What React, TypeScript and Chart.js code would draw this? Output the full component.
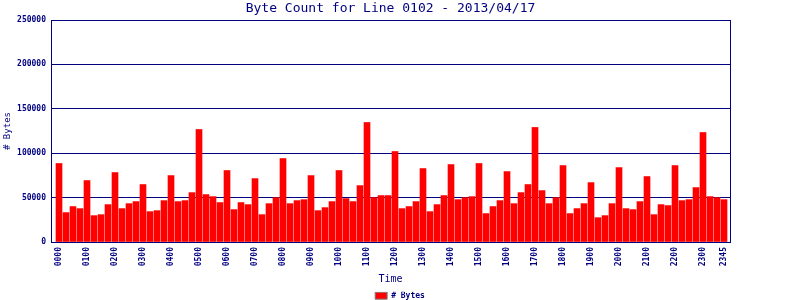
import React, { useEffect, useRef } from "react";
import { Chart, registerables } from "chart.js";

Chart.register(...registerables);

const timeLabels: string[] = [
  "0000", "0015", "0030", "0045", "0100", "0115", "0130", "0145",
  "0200", "0215", "0230", "0245", "0300", "0315", "0330", "0345",
  "0400", "0415", "0430", "0445", "0500", "0515", "0530", "0545",
  "0600", "0615", "0630", "0645", "0700", "0715", "0730", "0745",
  "0800", "0815", "0830", "0845", "0900", "0915", "0930", "0945",
  "1000", "1015", "1030", "1045", "1100", "1115", "1130", "1145",
  "1200", "1215", "1230", "1245", "1300", "1315", "1330", "1345",
  "1400", "1415", "1430", "1445", "1500", "1515", "1530", "1545",
  "1600", "1615", "1630", "1645", "1700", "1715", "1730", "1745",
  "1800", "1815", "1830", "1845", "1900", "1915", "1930", "1945",
  "2000", "2015", "2030", "2045", "2100", "2115", "2130", "2145",
  "2200", "2215", "2230", "2245", "2300", "2315", "2330", "2345",
];

const byteCounts: number[] = [
  88400, 33100, 39900, 37600, 69200, 29700, 30800, 42100,
  78200, 37600, 43200, 45500, 64700, 34200, 35300, 46600,
  74800, 45500, 46600, 55600, 126700, 53400, 51100, 44400,
  80500, 36500, 44400, 42100, 71400, 30800, 43200, 50000,
  94000, 43200, 46600, 47700, 74800, 35300, 38700, 45500,
  80500, 48900, 45500, 63500, 134600, 50000, 52300, 52300,
  101900, 37600, 39900, 45500, 82700, 34200, 42100, 52300,
  87200, 47700, 50000, 51100, 88400, 32000, 39900, 46600,
  79300, 43200, 55600, 64700, 129000, 57900, 43200, 50000,
  86100, 32000, 37600, 43200, 66900, 27400, 29700, 43200,
  83800, 37600, 36500, 45500, 73700, 30800, 42100, 41000,
  86100, 46600, 47700, 61300, 123300, 51100, 50000, 47700,
];

const shownTimeTicks: string[] = [
  "0000", "0100", "0200", "0300", "0400", "0500", "0600", "0700",
  "0800", "0900", "1000", "1100", "1200", "1300", "1400", "1500",
  "1600", "1700", "1800", "1900", "2000", "2100", "2200", "2300", "2345",
];

const yTicks: number[] = [0, 50000, 100000, 150000, 200000, 250000];

const NAVY = "#000080";
const MONO = "'DejaVu Sans Mono', 'Liberation Mono', monospace";

export default function App() {
  const ref = useRef<HTMLCanvasElement | null>(null);

  useEffect(() => {
    document.body.style.margin = "0";
    const canvas = ref.current;
    if (!canvas) return;
    const chart = new Chart(canvas, {
      type: "bar",
      data: {
        datasets: [
          {
            label: "# Bytes",
            data: byteCounts.map((v, i) => ({ x: i, y: v })),
            backgroundColor: "#ff0000",
            borderWidth: 0,
            barThickness: 6,
            yAxisID: "y",
          },
        ],
      },
      options: {
        responsive: false,
        animation: false,
        devicePixelRatio: 1,
        layout: { padding: { top: 0, left: 0, right: 0, bottom: -9.7 } },
        plugins: {
          tooltip: { enabled: false },
          title: {
            display: true,
            fullSize: false,
            text: "Byte Count for Line 0102 - 2013/04/17",
            color: NAVY,
            font: { family: MONO, size: 13, weight: "normal", lineHeight: 1.2 },
            padding: { top: 1, bottom: 3.4 },
          },
          legend: {
            display: true,
            position: "bottom",
            labels: {
              color: NAVY,
              font: { family: MONO, size: 8, weight: "bold" },
              boxWidth: 12,
              boxHeight: 7,
              padding: 0,
              generateLabels: (c: any) => {
                const items = (Chart as any).defaults.plugins.legend.labels.generateLabels(c);
                items.forEach((it: any) => {
                  it.strokeStyle = "#808080";
                  it.lineWidth = 1;
                  it.fillStyle = "#ff0000";
                });
                return items;
              },
            },
          },
        },
        scales: {
          x: {
            type: "linear",
            min: -1.143,
            max: 95.857,
            offset: false,
            grid: { display: false, drawTicks: false },
            border: { display: true, color: NAVY, width: 1 },
            afterBuildTicks: (scale: any) => {
              scale.ticks = shownTimeTicks.map((t) => ({ value: timeLabels.indexOf(t) }));
            },
            afterFit: (scale: any) => {
              scale.height = 49.7;
            },
            ticks: {
              autoSkip: false,
              minRotation: 90,
              maxRotation: 90,
              padding: 5,
              color: NAVY,
              font: { family: MONO, size: 8, weight: "bold" },
              callback: (value: any) => timeLabels[Math.round(Number(value))] ?? "",
            },
            title: {
              display: true,
              text: "Time",
              color: NAVY,
              font: { family: MONO, size: 10, weight: "normal", lineHeight: 1.2 },
              padding: { top: 0, bottom: 6.7 },
            },
          },
          y: {
            type: "linear",
            position: "left",
            min: 0,
            max: 250000,
            afterBuildTicks: (scale: any) => {
              scale.ticks = yTicks.map((v) => ({ value: v }));
            },
            afterFit: (scale: any) => {
              scale.width = 51;
            },
            grid: { display: true, color: NAVY, lineWidth: 1, drawTicks: false },
            border: { display: true, color: NAVY, width: 1 },
            ticks: {
              padding: 5,
              color: NAVY,
              font: { family: MONO, size: 8, weight: "bold" },
              callback: (value: any) => String(value),
            },
            title: {
              display: true,
              text: "# Bytes",
              color: NAVY,
              font: { family: MONO, size: 9, weight: "normal", lineHeight: 1.2 },
              padding: { top: 2, bottom: 0 },
            },
          },
          yRight: {
            type: "linear",
            position: "right",
            display: true,
            grid: { display: false, drawTicks: false },
            border: { display: true, color: NAVY, width: 1 },
            ticks: { display: false },
            afterFit: (scale: any) => {
              scale.width = 70;
            },
          },
        },
      } as any,
    });
    return () => chart.destroy();
  }, []);

  return (
    <div style={{ width: 800, height: 300, background: "#ffffff" }}>
      <canvas ref={ref} width={800} height={300} style={{ display: "block" }} />
    </div>
  );
}
